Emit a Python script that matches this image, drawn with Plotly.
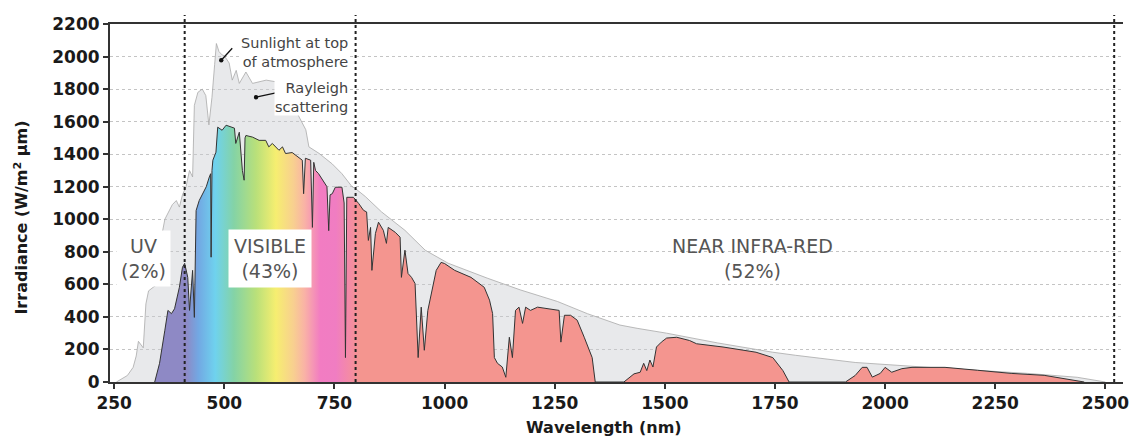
import plotly.graph_objects as go

# ---------------- data ----------------
# Sunlight at top of atmosphere (grey area)
wl_toa = [255, 265, 280, 293, 300, 305, 310, 316, 322, 328, 340, 348, 353, 358, 365, 372, 382, 391,
          398, 405, 413, 421, 428, 432, 440, 450, 458, 465, 472, 478, 482, 488, 495, 500, 511, 518,
          527, 534, 549, 564, 579, 595, 617, 632, 654, 669, 685, 692, 715, 745, 767, 790, 797, 820,
          857, 910, 956, 1008, 1098, 1173, 1256, 1324, 1398, 1437, 1504, 1620, 1745, 1797, 1932,
          2098, 2323, 2436, 2500]
irr_toa = [0, 15, 40, 90, 160, 250, 230, 210, 480, 560, 585, 600, 700, 900, 1000, 1040, 1090, 1115,
           1075, 1150, 1200, 1300, 1260, 1700, 1780, 1800, 1760, 1580, 1750, 1950, 2080, 2030, 2010,
           2005, 1960, 1855, 1915, 1835, 1905, 1835, 1845, 1855, 1845, 1795, 1710, 1630, 1550, 1445,
           1405, 1340, 1280, 1200, 1190, 1140, 1045, 932, 810, 730, 637, 565, 495, 420, 350, 330,
           300, 240, 183, 164, 120, 90, 53, 29, 0]

# Sunlight at sea level (coloured area)
wl_sfc = [342, 353, 365, 372, 380, 387, 398, 405, 410, 417, 421, 428, 432, 436, 443, 459, 466, 469,
          470, 472, 474, 481, 485, 495, 504, 516, 523, 526, 534, 541, 545, 547, 549, 564, 579, 594,
          601, 609, 624, 632, 639, 654, 669, 677, 680, 684, 696, 700, 703, 707, 714, 733, 737, 740,
          745, 752, 767, 772, 775, 778, 793, 805, 816, 823, 827, 832, 835, 843, 850, 861, 868, 872,
          888, 899, 902, 910, 917, 925, 933, 940, 947, 954, 962, 973, 981, 992, 1000, 1023, 1060,
          1090, 1102, 1109, 1113, 1120, 1131, 1139, 1147, 1154, 1161, 1169, 1177, 1184, 1195, 1211,
          1241, 1260, 1264, 1272, 1286, 1301, 1317, 1328, 1335, 1342, 1407, 1430, 1444, 1452, 1459,
          1466, 1473, 1481, 1492, 1504, 1527, 1556, 1572, 1632, 1707, 1745, 1768, 1782, 1910, 1932,
          1948, 1959, 1971, 1989, 2000, 2015, 2038, 2061, 2136, 2210, 2286, 2361, 2436, 2452]
irr_sfc = [0, 115, 318, 440, 420, 450, 582, 705, 729, 643, 440, 686, 397, 1054, 1115, 1200, 1260,
           1280, 767, 1300, 1363, 1412, 1566, 1547, 1578, 1566, 1560, 1466, 1535, 1300, 1240, 1500,
           1515, 1505, 1485, 1485, 1445, 1466, 1424, 1445, 1404, 1410, 1380, 1363, 1157, 1375, 1363,
           950, 1350, 1300, 1280, 1200, 930, 1150, 1157, 1197, 1197, 1100, 150, 1135, 1135, 1097,
           1055, 1045, 870, 950, 686, 912, 982, 932, 852, 950, 920, 890, 643, 810, 667, 643, 605,
           150, 460, 195, 440, 582, 686, 735, 728, 686, 643, 582, 503, 420, 150, 115, 92, 29, 275,
           150, 440, 460, 360, 460, 440, 460, 450, 440, 245, 410, 410, 380, 275, 195, 150, 0, 0, 50,
           60, 115, 70, 135, 92, 215, 245, 270, 275, 255, 235, 215, 183, 150, 70, 0, 0, 40, 90, 90,
           30, 53, 90, 60, 82, 90, 90, 72, 53, 41, 10, 0]

x_ticks = [250, 500, 750, 1000, 1250, 1500, 1750, 2000, 2250, 2500]
y_ticks = [0, 200, 400, 600, 800, 1000, 1200, 1400, 1600, 1800, 2000, 2200]
band_edges = [410, 798, 2520]

# ---------------- style ----------------
grad_nm = [340, 412, 440, 478, 520, 570, 615, 655, 680, 715, 750, 780, 805]
grad_col = ['#8e89c5', '#8e89c5', '#72a8e3', '#6fd2ee', '#84d3a6', '#b9e07a', '#f6ee70',
            '#f8cf90', '#f9b2a6', '#f27cc2', '#f07dc2', '#f48aa6', '#f4958f']
g0, g1 = grad_nm[0], grad_nm[-1]
colorscale = [[(n - g0) / (g1 - g0), c] for n, c in zip(grad_nm, grad_col)]

FONT = "DejaVu Sans"
fig = go.Figure()
fig.add_trace(go.Scatter(
    x=wl_toa, y=irr_toa, mode="lines", fill="tozeroy",
    fillcolor="rgba(200,203,208,0.42)", line=dict(color="#a9a9a9", width=0.8),
    hoverinfo="skip"))
fig.add_trace(go.Scatter(
    x=wl_sfc, y=irr_sfc, mode="lines", fill="tozeroy",
    fillgradient=dict(type="horizontal", colorscale=colorscale, start=g0, stop=g1),
    line=dict(color="#333333", width=1), hoverinfo="skip"))

for xv in band_edges:
    fig.add_shape(type="line", xref="x", yref="paper", x0=xv, x1=xv, y0=0, y1=1.025,
                  line=dict(color="#222222", width=2, dash="dot"), layer="above")

# callout pointers: a short line ending in a small dot (pixel sized, anchored in data space)
pointers = [(493, 1977, 11, 12), (572, 1750, 28, 6)]
for px_nm, py_val, dx, dy in pointers:
    fig.add_shape(type="line", xref="x", yref="y", xsizemode="pixel", ysizemode="pixel",
                  xanchor=px_nm, yanchor=py_val, x0=0, y0=0, x1=dx, y1=dy,
                  line=dict(color="#111111", width=1.3), layer="above")
    fig.add_shape(type="circle", xref="x", yref="y", xsizemode="pixel", ysizemode="pixel",
                  xanchor=px_nm, yanchor=py_val, x0=-2.2, x1=2.2, y0=-2.2, y1=2.2,
                  fillcolor="#111111", line=dict(width=0), layer="above")

txt = dict(family=FONT, size=19, color="#555555")
fig.add_annotation(x=317, y=760, text="UV<br>(2%)", showarrow=False, font=txt,
                   bgcolor="white", borderpad=4)
fig.add_annotation(x=604, y=760, text="VISIBLE<br>(43%)", showarrow=False, font=txt,
                   bgcolor="white", borderpad=5)
fig.add_annotation(x=1700, y=760, text="NEAR INFRA-RED<br>(52%)", showarrow=False, font=txt)

small = dict(family=FONT, size=14.5, color="#444444")
fig.add_annotation(x=782, y=2025, text="Sunlight at top<br>of atmosphere", showarrow=False,
                   font=small, align="right", xanchor="right", bgcolor="white", borderpad=0)
fig.add_annotation(x=782, y=1750, text="Rayleigh<br>scattering", showarrow=False,
                   font=small, align="right", xanchor="right", bgcolor="white", borderpad=0)

title_font = dict(family=FONT, size=16, color="#1a1a1a", weight="bold")
fig.add_annotation(xref="paper", yref="paper", x=0.4877, y=-0.128, text="Wavelength (nm)",
                   showarrow=False, font=title_font, yanchor="middle")
fig.add_annotation(xref="paper", yref="paper", x=-0.0883, y=0.458,
                   text="Irradiance (W/m<sup>2</sup> μm)", textangle=-90,
                   showarrow=False, font=title_font, xanchor="center", yanchor="middle")

tick_font = dict(family=FONT, size=17, color="#1a1a1a", weight="bold")
fig.update_layout(
    width=1141, height=447, margin=dict(l=110, r=12, t=24, b=65),
    paper_bgcolor="white", plot_bgcolor="white", showlegend=False,
    xaxis=dict(range=[240.5, 2540], tickvals=x_ticks, showline=True, linecolor="#333333",
               linewidth=2, mirror=True, ticks="outside", ticklen=5, tickwidth=1.5,
               tickcolor="#333333", tickfont=tick_font, showgrid=False, zeroline=False),
    yaxis=dict(range=[0, 2200], tickvals=y_ticks, showline=True, linecolor="#333333",
               linewidth=2, ticks="outside", ticklen=5, tickwidth=1.5, tickcolor="#333333",
               tickfont=tick_font, showgrid=True, gridcolor="#c4c4c4", griddash="dot",
               gridwidth=1, zeroline=False),
)
fig.write_html("out.html")
